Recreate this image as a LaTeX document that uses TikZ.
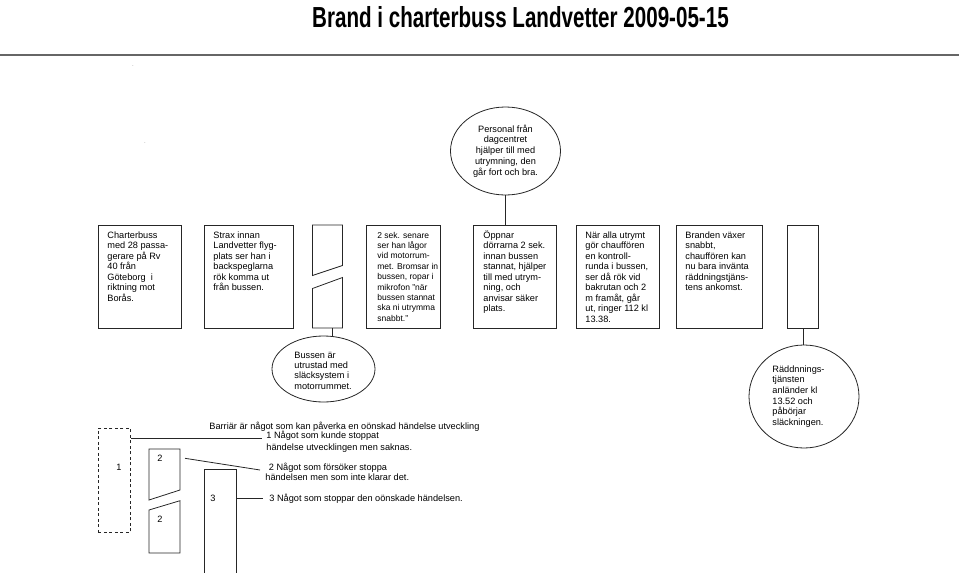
\documentclass[tikz,border=0pt]{standalone}
\usepackage{fontspec}
\setmainfont{Liberation Sans}
\usetikzlibrary{shapes.geometric}
\begin{document}
\begin{tikzpicture}[x=1pt,y=-1pt,
  line width=0.8pt,
  box/.style={draw=black!85, rectangle, inner sep=0, anchor=north west},
  txt/.style={inner sep=0, anchor=base west, align=left, font=\fontsize{9.2}{10.5}\selectfont},
  ell/.style={draw=black!85, ellipse, inner sep=0, font=\fontsize{9.2}{10.8}\selectfont},
  lbl/.style={inner sep=0, font=\fontsize{9.2}{10.5}\selectfont},
  link/.style={draw=black!85},
  bar/.style={draw=black!85, line join=miter}
  ]
\useasboundingbox (0,0) rectangle (959,573);
\clip (0,0) rectangle (959,573);

% title and rule
\node[anchor=base, inner sep=0, font=\bfseries\fontsize{29}{30}\selectfont] (title) at (520.5,27.5)
  {\scalebox{0.71}[1]{Brand i charterbuss Landvetter 2009-05-15}};
\draw[draw=black!60, line width=1.5pt] (0,55) -- (959,55);
\node[lbl, text=black!45, font=\fontsize{6}{6}\selectfont] (dot1) at (133,66) {.};
\node[lbl, text=black!45, font=\fontsize{6}{6}\selectfont] (dot2) at (145,143) {.};

% top row boxes
\node[box, minimum width=83, minimum height=103] (b1) at (98,225) {};
\node[box, minimum width=89, minimum height=103] (b2) at (204,225) {};
\node[box, minimum width=74, minimum height=103] (b3) at (366,225) {};
\node[box, minimum width=83, minimum height=103] (b4) at (473,225) {};
\node[box, minimum width=83, minimum height=103] (b5) at (576,225) {};
\node[box, minimum width=86, minimum height=103] (b6) at (676,225) {};
\node[box, minimum width=31, minimum height=103] (b7) at (787,225) {};

% anchor = baseline of the last line
\node[txt] (t1) at (107,301) {Charterbuss\\med 28 passa-\\gerare på Rv\\40 från\\Göteborg~ i\\riktning mot\\Borås.};
\node[txt] (t2) at (213,290.5) {Strax innan\\Landvetter flyg-\\plats ser han i\\backspeglarna\\rök komma ut\\från bussen.};
\node[txt, font=\fontsize{8.5}{10.4}\selectfont] (t3) at (377,321.2) {2 sek. senare\\ser han lågor\\vid motorrum-\\met. Bromsar in\\bussen, ropar i\\mikrofon ”när\\bussen stannat\\ska ni utrymma\\snabbt.”};
\node[txt] (t4) at (483,311.5) {Öppnar\\dörrarna 2 sek.\\innan bussen\\stannat, hjälper\\till med utrym-\\ning, och\\anvisar säker\\plats.};
\node[txt] (t5) at (585,322) {När alla utrymt\\gör chauffören\\en kontroll-\\runda i bussen,\\ser då rök vid\\bakrutan och 2\\m framåt, går\\ut, ringer 112 kl\\13.38.};
\node[txt] (t6) at (685,290.5) {Branden växer\\snabbt,\\chauffören kan\\nu bara invänta\\räddningstjäns-\\tens ankomst.};

% split barrier in top row
\draw[bar] (312.5,225) -- (342.5,225) -- (342.5,265.5) -- (312.5,275.5) -- cycle;
\draw[bar] (312.5,288.5) -- (342.5,277.5) -- (342.5,328) -- (312.5,328) -- cycle;
\coordinate (s1) at (332,328);

% ellipses
\node[ell, minimum width=110, minimum height=88, align=center] (e1) at (505.5,151)
  {Personal från\\dagcentret\\hjälper till med\\utrymning, den\\går fort och bra.};
\node[ell, minimum width=103, minimum height=66] (e2) at (323.5,369) {};
\node[txt, font=\fontsize{9.2}{10.3}\selectfont] (e2t) at (294,389)
  {Bussen är\\utrustad med\\släcksystem i\\motorrummet.};
\node[ell, minimum width=110, minimum height=103] (e3) at (804,396.5) {};
\node[txt, font=\fontsize{9.2}{10.6}\selectfont] (e3t) at (772,425.3)
  {Räddnnings-\\tjänsten\\anländer kl\\13.52 och\\påbörjar\\släckningen.};

\draw[link] (e1.south) -- (e1.south |- b4.north);
\draw[link] (s1) -- (s1 |- e2.north);
\draw[link] (b7.south) -- (b7.south |- e3.north);

% legend
\node[box, dashed, dash pattern=on 3pt off 2.5pt, minimum width=32, minimum height=104] (d1) at (98,428) {};
\draw[bar] (149,449) -- (180,449) -- (180,490) -- (149,500) -- cycle;
\draw[bar] (149,510) -- (180,500.7) -- (180,553) -- (149,553) -- cycle;
\node[box, minimum width=32, minimum height=115] (d3) at (204,469) {};

\node[lbl] (n1) at (119,467) {1};
\node[lbl] (n2a) at (160,458) {2};
\node[lbl] (n2b) at (160,519) {2};
\node[lbl] (n3) at (213,498) {3};

\coordinate (l1) at (262,438.5);
\coordinate (l2a) at (185,458.3);
\coordinate (l2b) at (260,470);
\coordinate (l3) at (262.7,498.7);
\draw[link] (d1.north east |- l1) -- (l1);
\draw[link] (l2a) -- (l2b);
\draw[link] (d3.north east |- l3) -- (l3);

\node[txt] (g0) at (209,429) {Barriär är något som kan påverka en oönskad händelse utveckling};
\node[txt] (g1) at (266,450) {1 Något som kunde stoppat\\[1.5pt]händelse utvecklingen men saknas.};
\node[txt] (g2) at (265,480.3) {\hspace*{3.5pt}2 Något som försöker stoppa\\[-0.9pt]händelsen men som inte klarar det.};
\node[txt] (g3) at (269,501.7) {3 Något som stoppar den oönskade händelsen.};
\end{tikzpicture}
\end{document}
